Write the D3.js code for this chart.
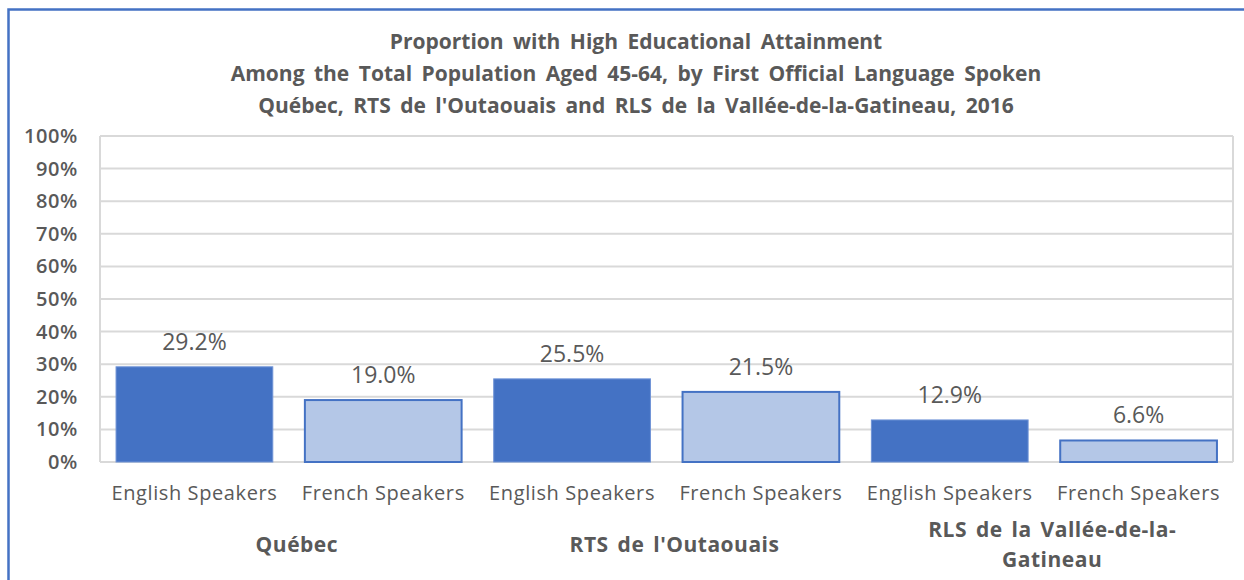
<!DOCTYPE html>
<html>
<head>
<meta charset="utf-8">
<script src="https://cdn.jsdelivr.net/npm/d3@7"></script>
<style>
  body { margin: 0; background: #fff; }
  svg text { font-family: "Open Sans", Lato, sans-serif; fill: #595959; }
</style>
</head>
<body>
<script>
var titleLines = ['Proportion with High Educational Attainment',
                  'Among the Total Population Aged 45-64, by First Official Language Spoken',
                  "Québec, RTS de l'Outaouais and RLS de la Vallée-de-la-Gatineau, 2016"];
var regions = ['Québec', "RTS de l'Outaouais", 'RLS de la Vallée-de-la-Gatineau'];
var regionLines = [['Québec'], ["RTS de l'Outaouais"], ['RLS de la Vallée-de-la-', 'Gatineau']];
var speakers = ['English Speakers', 'French Speakers'];
var englishValues = [29.2, 25.5, 12.9];
var frenchValues = [19.0, 21.5, 6.6];
var yTicks = [0, 10, 20, 30, 40, 50, 60, 70, 80, 90, 100];

var screen = { width: 1244, height: 580 };
var margins = { top: 136, bottom: 118, left: 100, right: 11 };

// flatten into one row per bar
var bars = [];
regions.forEach(function(r, i){
  bars.push({ region: r, speaker: speakers[0], value: englishValues[i], key: i + '-0' });
  bars.push({ region: r, speaker: speakers[1], value: frenchValues[i], key: i + '-1' });
});

var svg = d3.select('body').append('svg')
            .attr('width', screen.width)
            .attr('height', screen.height);

// outer chart frame (runs off the page on right and bottom)
svg.append('rect')
   .attr('x', 8.5).attr('y', 9.5)
   .attr('width', 1260).attr('height', 600)
   .attr('fill', 'none')
   .attr('stroke', '#4472c4')
   .attr('stroke-width', 2.5);

var xScale = d3.scaleBand()
               .domain(bars.map(function(d){ return d.key; }))
               .range([margins.left, screen.width - margins.right])
               .paddingInner(0.17)
               .paddingOuter(0.085);
var yScale = d3.scaleLinear()
               .domain([0, 100])
               .range([screen.height - margins.bottom, margins.top]);

// gridlines
svg.append('g')
   .selectAll('line')
   .data(yTicks)
   .enter()
   .append('line')
   .attr('x1', margins.left)
   .attr('x2', screen.width - margins.right)
   .attr('y1', function(d){ return yScale(d); })
   .attr('y2', function(d){ return yScale(d); })
   .attr('stroke', '#d9d9d9')
   .attr('stroke-width', 2);

// plot area sides
[margins.left, screen.width - margins.right].forEach(function(x){
  svg.append('line')
     .attr('x1', x).attr('x2', x)
     .attr('y1', yScale(100)).attr('y2', yScale(0))
     .attr('stroke', '#d9d9d9')
     .attr('stroke-width', 2);
});

var yAxis = d3.axisLeft(yScale)
              .tickValues(yTicks)
              .tickSize(0)
              .tickPadding(0)
              .tickFormat(function(d){ return d + '%'; });
var yg = svg.append('g')
            .attr('transform', 'translate(' + (margins.left - 22) + ',0)')
            .call(yAxis);
yg.select('.domain').remove();
yg.selectAll('text')
  .attr('font-size', '20px')
  .attr('font-weight', '600')
  .attr('letter-spacing', '0.6px')
  .style('font-family', '"Open Sans", Lato, sans-serif')
  .attr('fill', '#595959');

svg.append('g')
   .selectAll('rect')
   .data(bars)
   .enter()
   .append('rect')
   .attr('x', function(d){ return xScale(d.key); })
   .attr('y', function(d){ return yScale(d.value); })
   .attr('width', xScale.bandwidth())
   .attr('height', function(d){ return yScale(0) - yScale(d.value); })
   .attr('fill', function(d){ return d.speaker === speakers[0] ? '#4472c4' : '#b4c7e7'; })
   .attr('stroke', function(d){ return d.speaker === speakers[0] ? '#6f93d6' : '#4472c4'; })
   .attr('stroke-width', function(d){ return d.speaker === speakers[0] ? 1 : 2; });

// data labels
svg.append('g')
   .selectAll('text')
   .data(bars)
   .enter()
   .append('text')
   .attr('x', function(d){ return xScale(d.key) + xScale.bandwidth() / 2; })
   .attr('y', function(d){ return yScale(d.value) - 17; })
   .attr('text-anchor', 'middle')
   .attr('font-size', '23px')
   .text(function(d){ return d.value.toFixed(1) + '%'; });

// speaker labels
svg.append('g')
   .selectAll('text')
   .data(bars)
   .enter()
   .append('text')
   .attr('x', function(d){ return xScale(d.key) + xScale.bandwidth() / 2; })
   .attr('y', 500)
   .attr('text-anchor', 'middle')
   .attr('font-size', '20px')
   .attr('font-weight', '500')
   .attr('letter-spacing', '0.6px')
   .text(function(d){ return d.speaker; });

// region labels
var step = xScale.step();
var regionG = svg.append('g')
                 .selectAll('text')
                 .data(regions)
                 .enter()
                 .append('text')
                 .attr('text-anchor', 'middle')
                 .attr('font-size', '21px')
                 .attr('font-weight', 'bold')
                 .attr('letter-spacing', '0.5px')
                 .attr('word-spacing', '3px')
                 .attr('y', function(d, i){ return regionLines[i].length > 1 ? 537 : 552; });
regionG.each(function(d, i){
  var cx = xScale(i + '-0') + xScale.bandwidth() / 2 + step / 2 + 8;
  d3.select(this).selectAll('tspan')
    .data(regionLines[i])
    .enter()
    .append('tspan')
    .attr('x', cx)
    .attr('dy', function(l, j){ return j === 0 ? 0 : 30; })
    .text(function(l){ return l; });
});

// title
svg.append('g')
   .selectAll('text')
   .data(titleLines)
   .enter()
   .append('text')
   .attr('x', 636)
   .attr('y', function(d, i){ return 49 + i * 32; })
   .attr('text-anchor', 'middle')
   .attr('font-size', '21px')
   .attr('font-weight', 'bold')
   .attr('word-spacing', '4px')
   .text(function(d){ return d; });
</script>
</body>
</html>
